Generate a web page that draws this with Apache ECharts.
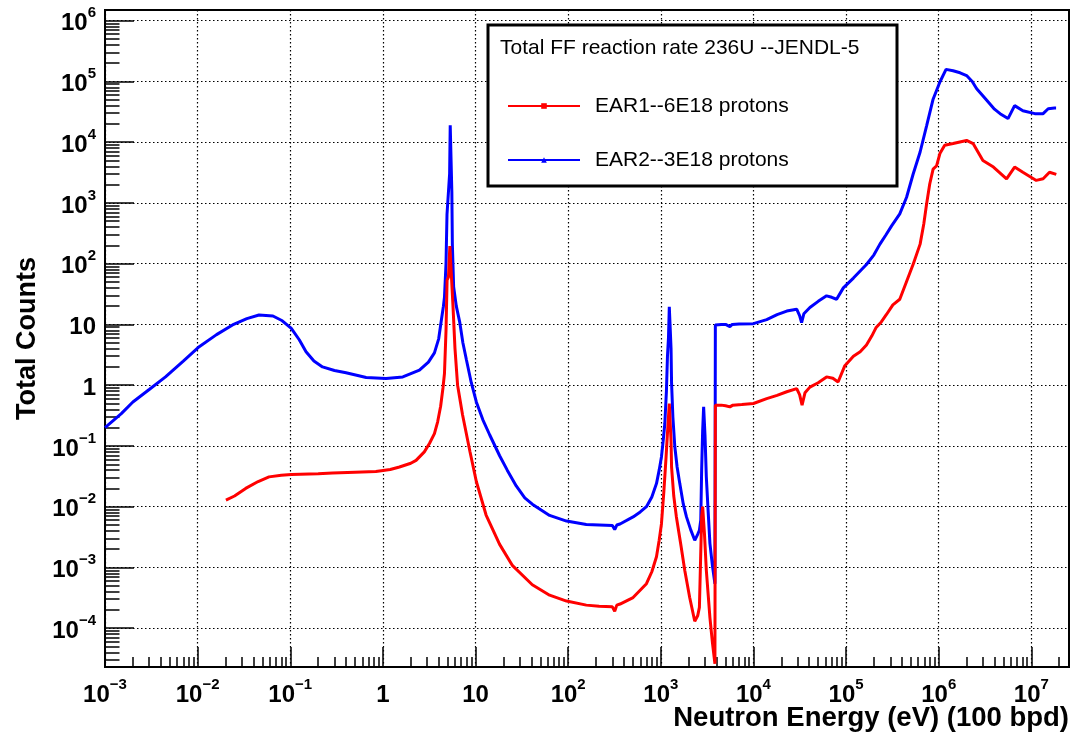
<!DOCTYPE html>
<html><head><meta charset="utf-8">
<script src="https://cdn.jsdelivr.net/npm/echarts@6.0.0/dist/echarts.min.js"></script>
<style>html,body{margin:0;padding:0;background:#fff}#c{width:1073px;height:739px}</style>
</head><body><div id="c"></div>
<script>
// ---------------- data ----------------
const seriesNames = ['EAR1--6E18 protons', 'EAR2--3E18 protons'];
const legendTitle = 'Total FF reaction rate 236U --JENDL-5';
const xTitle = 'Neutron Energy (eV) (100 bpd)';
const yTitle = 'Total Counts';

const xTickValues = [1e-3, 1e-2, 1e-1, 1, 10, 1e2, 1e3, 1e4, 1e5, 1e6, 1e7];
const xTickLabels = ['10^-3', '10^-2', '10^-1', '1', '10', '10^2', '10^3', '10^4', '10^5', '10^6', '10^7'];
const yTickValues = [1e-4, 1e-3, 1e-2, 1e-1, 1, 10, 1e2, 1e3, 1e4, 1e5, 1e6];
const yTickLabels = ['10^-4', '10^-3', '10^-2', '10^-1', '1', '10', '10^2', '10^3', '10^4', '10^5', '10^6'];

const xMin = 1e-3, xMax = 2.55e7;
const yMin = 2.3e-5, yMax = 1.5e6;

// EAR1 (red)
const ear1Energy = [0.0202, 0.025, 0.033, 0.045, 0.059, 0.08, 0.1026, 0.2, 0.286, 0.5, 0.84, 1.2, 1.51, 2.0, 2.28, 2.8, 3.18, 3.6, 3.9, 4.2, 4.45, 4.62, 4.8, 4.93, 5.1, 5.28, 5.4, 5.5, 5.71, 6.0, 6.4, 7.23, 8.7, 10.2, 13.0, 18.2, 25.1, 41, 63, 96, 157, 216, 300, 318, 335, 363, 502, 700, 800, 898, 960, 1016, 1080, 1140, 1190, 1235, 1265, 1290, 1307, 1380, 1473, 1650, 1815, 2050, 2325, 2500, 2610, 2760, 2830, 2900, 2960, 3100, 3390, 3600, 3840, 3880, 4500, 5000, 5570, 6000, 7500, 1e4, 13900, 18000, 22900, 29300, 31500, 33500, 36000, 40700, 50000, 61600, 72000, 82000, 97000, 120000, 142000, 166000, 190000, 210000, 240000, 273000, 320000, 380000, 450000, 530000, 630000, 690000, 740000, 800000, 870000, 950000, 1.03e6, 1.16e6, 1.43e6, 2.0e6, 2.35e6, 3.0e6, 3.9e6, 5.4e6, 6.6e6, 8.1e6, 1.13e7, 1.34e7, 1.57e7, 1.86e7];
const ear1Counts = [0.0128, 0.015, 0.02, 0.026, 0.031, 0.033, 0.034, 0.035, 0.036, 0.037, 0.038, 0.041, 0.045, 0.052, 0.058, 0.08, 0.11, 0.16, 0.25, 0.45, 0.9, 1.56, 7.9, 54, 60, 195, 195, 60, 20, 4, 1, 0.33, 0.081, 0.026, 0.0073, 0.0024, 0.00107, 5.2e-4, 3.5e-4, 2.8e-4, 2.4e-4, 2.3e-4, 2.25e-4, 1.9e-4, 2.4e-4, 2.5e-4, 3.2e-4, 5.4e-4, 8.5e-4, 1.5e-3, 2.8e-3, 0.0052, 0.018, 0.066, 0.2, 0.5, 0.5, 0.12, 0.045, 0.015, 0.0068, 0.0023, 8.9e-4, 3.2e-4, 1.3e-4, 1.6e-4, 2.2e-4, 0.0068, 0.01, 0.01, 0.0036, 0.0009, 1.5e-4, 6e-5, 2.6e-5, 0.47, 0.47, 0.46, 0.44, 0.47, 0.48, 0.5, 0.6, 0.68, 0.78, 0.88, 0.7, 0.47, 0.75, 0.93, 1.1, 1.37, 1.3, 1.13, 2.1, 3.0, 3.55, 4.6, 6.5, 8.8, 11, 14.6, 21, 26, 51, 98, 210, 450, 960, 2050, 3600, 4100, 6500, 8900, 9500, 10700, 9500, 5000, 3900, 2500, 3900, 3200, 2350, 2500, 3200, 2950];

// EAR2 (blue)
const ear2Energy = [1e-3, 1.5e-3, 2e-3, 3e-3, 4.5e-3, 7e-3, 0.0104, 0.016, 0.0238, 0.034, 0.046, 0.065, 0.082, 0.1026, 0.125, 0.148, 0.18, 0.223, 0.3, 0.4, 0.66, 1.08, 1.64, 2.48, 3.1, 3.6, 4.0, 4.24, 4.5, 4.62, 4.8, 4.92, 5.1, 5.25, 5.33, 5.47, 5.55, 5.62, 5.8, 6.2, 6.76, 7.3, 7.98, 9, 10.2, 12, 14.2, 18.2, 22, 27.5, 34, 41, 63, 96, 157, 216, 300, 318, 335, 363, 502, 600, 700, 800, 898, 960, 1016, 1060, 1104, 1150, 1180, 1210, 1235, 1265, 1290, 1307, 1350, 1416, 1500, 1603, 1750, 1893, 2100, 2325, 2500, 2610, 2700, 2760, 2830, 2900, 2950, 3000, 3100, 3250, 3390, 3600, 3840, 3880, 4500, 5000, 5570, 5900, 7000, 1e4, 13900, 18000, 22900, 29300, 31500, 33100, 35000, 40700, 50000, 61600, 70000, 79000, 93400, 120000, 166000, 200000, 232000, 270000, 310000, 380000, 450000, 530000, 630000, 740000, 870000, 1.03e6, 1.2e6, 1.43e6, 1.7e6, 2.0e6, 2.3e6, 2.57e6, 3.3e6, 4.0e6, 4.6e6, 5.6e6, 6.6e6, 8.1e6, 1.09e7, 1.34e7, 1.52e7, 1.78e7, 1.85e7];
const ear2Counts = [0.2, 0.34, 0.53, 0.85, 1.37, 2.5, 4.3, 6.8, 9.8, 12.5, 14.3, 13.8, 11.5, 8.6, 5.6, 3.55, 2.5, 2.0, 1.75, 1.6, 1.34, 1.29, 1.37, 1.77, 2.4, 3.4, 5.8, 10.8, 20, 28, 100, 650, 700, 3000, 19000, 19000, 1500, 210, 42, 20, 10.8, 5, 2.6, 1.1, 0.53, 0.27, 0.153, 0.069, 0.04, 0.022, 0.014, 0.011, 0.0072, 0.0058, 0.0051, 0.005, 0.0049, 0.0042, 0.005, 0.0052, 0.0068, 0.0082, 0.01, 0.0145, 0.024, 0.04, 0.066, 0.12, 0.23, 0.8, 3, 6, 19.6, 19.6, 4, 1.07, 0.3, 0.098, 0.045, 0.024, 0.011, 0.0068, 0.0042, 0.0028, 0.0035, 0.0041, 0.006, 0.04, 0.18, 0.44, 0.44, 0.15, 0.031, 0.008, 0.0025, 0.0011, 5.4e-4, 9.8, 10, 10, 9.2, 10, 10.2, 10.3, 12, 14.5, 16.6, 17.8, 14, 10.7, 15, 19, 24, 29.6, 28, 26, 40, 58, 97, 140, 210, 300, 420, 660, 1240, 3000, 6900, 18600, 51000, 98000, 158000, 150000, 139000, 125000, 100000, 76000, 49000, 35000, 29500, 24500, 40000, 33000, 29500, 29500, 35600, 36500, 36500];

// ---------------- helpers ----------------
const FONT = '"Liberation Sans", Arial, Helvetica, sans-serif';
function zip(a, b) { return a.map((v, i) => [v, b[i]]); }
function toRich(s) {
  const p = s.split('^');
  if (p.length === 1) return '{b|' + s + '}';
  return '{b|' + p[0] + '}{s|' + p[1].replace('-', '\u2212') + '}';
}
function labelFormatter(vals, labels) {
  return function (v) {
    for (let i = 0; i < vals.length; i++) {
      if (Math.abs(Math.log10(v) - Math.log10(vals[i])) < 1e-6) return toRich(labels[i]);
    }
    return '';
  };
}
function minorTicks(lo, hi) {
  const out = [];
  const e0 = Math.floor(Math.log10(lo)), e1 = Math.ceil(Math.log10(hi));
  for (let e = e0; e <= e1; e++) {
    for (let m = 2; m <= 9; m++) {
      const v = m * Math.pow(10, e);
      if (v > lo && v < hi) out.push(v);
    }
  }
  return out;
}
const richLabel = {
  b: { fontSize: 24, fontWeight: 'bold', fontFamily: FONT, color: '#000', lineHeight: 30, verticalAlign: 'bottom' },
  s: { fontSize: 15, fontWeight: 'bold', fontFamily: FONT, color: '#000', lineHeight: 15, verticalAlign: 'top' }
};
const gridDash = { color: '#000', width: 1.2, type: [1.5, 2.5] };

const chart = echarts.init(document.getElementById('c'), null, { renderer: 'canvas' });
chart.setOption({
  animation: false,
  backgroundColor: '#fff',
  textStyle: { fontFamily: FONT },
  grid: { left: 105, right: 4, top: 10, bottom: 72, show: true, borderColor: '#000', borderWidth: 2, containLabel: false, outerBoundsMode: 'none' },
  xAxis: [{
    type: 'log', logBase: 10, min: xMin, max: xMax, position: 'bottom',
    axisLine: { show: true, lineStyle: { color: '#000', width: 2 } },
    axisTick: { show: true, inside: true, length: 20, customValues: xTickValues, lineStyle: { color: '#000', width: 1.5 } },
    axisLabel: { show: true, margin: 10, customValues: xTickValues, formatter: labelFormatter(xTickValues, xTickLabels), rich: richLabel },
    splitLine: { show: true, lineStyle: gridDash },
    minorTick: { show: false }
  }, {
    type: 'log', logBase: 10, min: xMin, max: xMax, position: 'bottom', gridIndex: 0,
    axisLine: { show: false },
    axisTick: { show: true, inside: true, length: 10, customValues: minorTicks(xMin, xMax), lineStyle: { color: '#000', width: 1.5 } },
    axisLabel: { show: false },
    splitLine: { show: false }
  }],
  yAxis: [{
    type: 'log', logBase: 10, min: yMin, max: yMax, position: 'left',
    name: yTitle, nameLocation: 'middle', nameGap: 62, nameRotate: 90,
    nameTextStyle: { fontSize: 27, fontWeight: 'bold', color: '#000', fontFamily: FONT },
    axisLine: { show: true, lineStyle: { color: '#000', width: 2 } },
    axisTick: { show: true, inside: true, length: 29, customValues: yTickValues, lineStyle: { color: '#000', width: 1.5 } },
    axisLabel: { show: true, margin: 9, customValues: yTickValues, formatter: labelFormatter(yTickValues, yTickLabels), rich: richLabel },
    splitLine: { show: true, lineStyle: gridDash },
    minorTick: { show: false }
  }, {
    type: 'log', logBase: 10, min: yMin, max: yMax, position: 'left', gridIndex: 0,
    axisLine: { show: false },
    axisTick: { show: true, inside: true, length: 14.5, customValues: minorTicks(yMin, yMax), lineStyle: { color: '#000', width: 1.5 } },
    axisLabel: { show: false },
    splitLine: { show: false }
  }],
  legend: {
    data: seriesNames, orient: 'vertical', left: 502, top: 89,
    itemWidth: 72, itemHeight: 7, itemGap: 30, selectedMode: false, z: 20,
    textStyle: { fontSize: 21, color: '#000', fontFamily: FONT, lineHeight: 24, padding: [0, 0, 0, 10] }
  },
  graphic: [
    { type: 'rect', z: 15, shape: { x: 488, y: 25, width: 409, height: 161 }, style: { fill: '#fff', stroke: '#000', lineWidth: 3 } },
    { type: 'text', z: 16, x: 500, y: 38, style: { text: legendTitle, font: '21px ' + FONT, fill: '#000' } },
    { type: 'text', z: 16, x: 1069, y: 718, style: { text: xTitle, font: 'bold 27.5px ' + FONT, fill: '#000', align: 'right', verticalAlign: 'middle' } }
  ],
  series: [{
    name: seriesNames[0], type: 'line', xAxisIndex: 0, yAxisIndex: 0,
    data: zip(ear1Energy, ear1Counts), symbol: 'rect', symbolSize: 5, showSymbol: false,
    lineStyle: { color: '#ff0000', width: 3 }, itemStyle: { color: '#ff0000' }, z: 4,
    emphasis: { disabled: true }, silent: true
  }, {
    name: seriesNames[1], type: 'line', xAxisIndex: 0, yAxisIndex: 0,
    data: zip(ear2Energy, ear2Counts), symbol: 'triangle', symbolSize: 5, showSymbol: false,
    lineStyle: { color: '#0000ff', width: 3 }, itemStyle: { color: '#0000ff' }, z: 3,
    emphasis: { disabled: true }, silent: true
  }]
});
</script>
</body></html>
